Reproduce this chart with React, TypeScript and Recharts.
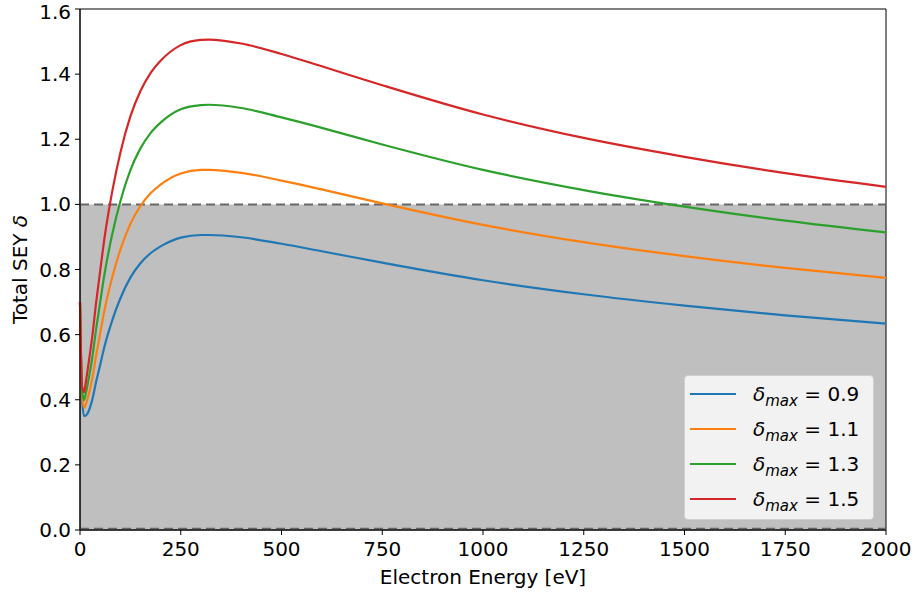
import { LineChart, Line, XAxis, YAxis, ReferenceArea, ReferenceLine } from 'recharts'

// Primary electron energy [eV]
const energy = [0, 5, 10, 15, 20, 30, 40, 50, 60, 80, 100, 125, 150, 175, 200, 250, 300, 320, 400, 500, 600, 750, 1000, 1250, 1500, 1750, 2000]

// Total SEY for each delta_max
const sey09 = [0.70, 0.406, 0.350, 0.352, 0.361, 0.398, 0.455, 0.507, 0.560, 0.644, 0.711, 0.775, 0.819, 0.850, 0.871, 0.898, 0.906, 0.906, 0.899, 0.879, 0.856, 0.821, 0.767, 0.724, 0.689, 0.659, 0.634]
const sey11 = [0.70, 0.418, 0.375, 0.388, 0.408, 0.462, 0.536, 0.603, 0.670, 0.776, 0.860, 0.940, 0.995, 1.034, 1.061, 1.095, 1.106, 1.106, 1.097, 1.073, 1.046, 1.003, 0.937, 0.884, 0.841, 0.805, 0.774]
const sey13 = [0.70, 0.431, 0.399, 0.423, 0.454, 0.526, 0.617, 0.699, 0.780, 0.908, 1.009, 1.105, 1.172, 1.219, 1.251, 1.292, 1.305, 1.306, 1.296, 1.267, 1.235, 1.184, 1.106, 1.044, 0.993, 0.950, 0.914]
const sey15 = [0.70, 0.443, 0.423, 0.459, 0.501, 0.590, 0.698, 0.795, 0.890, 1.040, 1.158, 1.270, 1.348, 1.403, 1.441, 1.489, 1.505, 1.506, 1.494, 1.462, 1.424, 1.366, 1.276, 1.204, 1.146, 1.096, 1.054]

const xTicks = [0, 250, 500, 750, 1000, 1250, 1500, 1750, 2000]
const yTicks = [0, 0.2, 0.4, 0.6, 0.8, 1.0, 1.2, 1.4, 1.6]

const series = [
  { key: 'd09', label: '0.9', color: '#1f77b4' },
  { key: 'd11', label: '1.1', color: '#ff7f0e' },
  { key: 'd13', label: '1.3', color: '#2ca02c' },
  { key: 'd15', label: '1.5', color: '#d62728' },
]

const data = energy.map((e, i) => ({
  energy: e,
  d09: sey09[i],
  d11: sey11[i],
  d13: sey13[i],
  d15: sey15[i],
}))

const FONT = '"DejaVu Sans", sans-serif'
const tickStyle = { fill: '#000', fontSize: 20, fontFamily: FONT }

function YTitle({ viewBox }: any) {
  const cx = 20
  const cy = viewBox.y + viewBox.height / 2
  return (
    <text
      x={cx}
      y={cy}
      transform={`rotate(-90 ${cx} ${cy})`}
      textAnchor="middle"
      dominantBaseline="central"
      fontSize={20}
      fontFamily={FONT}
      fill="#000"
    >
      Total SEY <tspan fontStyle="italic">δ</tspan>
    </text>
  )
}

function XTitle({ viewBox }: any) {
  const cx = viewBox.x + viewBox.width / 2
  return (
    <text x={cx} y={584} textAnchor="middle" fontSize={20} fontFamily={FONT} fill="#000">
      Electron Energy [eV]
    </text>
  )
}

// legend box sitting in the lower right corner of the plot
function SeyLegend() {
  return (
    <div
      style={{
        position: 'absolute',
        left: 684,
        top: 375,
        width: 190,
        height: 145,
        boxSizing: 'border-box',
        background: '#f2f2f2',
        border: '1px solid #d0d0d0',
        borderRadius: 4,
        fontFamily: FONT,
        fontSize: 20,
        color: '#000',
      }}
    >
      {series.map(s => (
        <div key={s.key} style={{ height: 35, display: 'flex', alignItems: 'center', position: 'relative' }}>
          <div style={{ position: 'absolute', left: 5, width: 46, height: 2, background: s.color }} />
          <div style={{ position: 'absolute', left: 68, whiteSpace: 'nowrap', lineHeight: '24px' }}>
            <i>δ</i>
            <sub style={{ fontSize: 15, fontStyle: 'italic', verticalAlign: '-0.3em', lineHeight: 0 }}>max</sub>
            <span> = {s.label}</span>
          </div>
        </div>
      ))}
    </div>
  )
}

export default function App() {
  return (
    <div style={{ position: 'absolute', left: 0, top: 0, width: 915, height: 593, background: '#fff' }}>
      <LineChart width={915} height={593} data={data} margin={{ top: 9, right: 29, left: 0, bottom: 0 }}>
        <XAxis
          dataKey="energy"
          type="number"
          domain={[0, 2000]}
          ticks={xTicks}
          height={63}
          stroke="#000"
          tickSize={5}
          tickMargin={7}
          tick={tickStyle}
          label={<XTitle />}
        />
        <YAxis
          type="number"
          domain={[0, 1.6]}
          ticks={yTicks}
          width={80}
          stroke="#000"
          tickSize={5}
          tickMargin={4}
          tick={tickStyle}
          tickFormatter={(v: number) => v.toFixed(1)}
          label={<YTitle />}
        />

        {/* shaded region below unity yield */}
        <ReferenceArea y1={0} y2={1} fill="#bfbfbf" fillOpacity={1} stroke="none" />
        <ReferenceLine y={1} stroke="#666" strokeWidth={2} strokeDasharray="9 5" />
        <ReferenceLine y={0.004} stroke="#666" strokeWidth={2} strokeDasharray="9 5" />

        {series.map(s => (
          <Line
            key={s.key}
            type="monotone"
            dataKey={s.key}
            stroke={s.color}
            strokeWidth={2.2}
            dot={false}
            isAnimationActive={false}
          />
        ))}

        {/* plot frame */}
        <ReferenceArea x1={0} x2={2000} y1={0} y2={1.6} fill="none" stroke="#000" strokeWidth={1} />
      </LineChart>
      <SeyLegend />
    </div>
  )
}
